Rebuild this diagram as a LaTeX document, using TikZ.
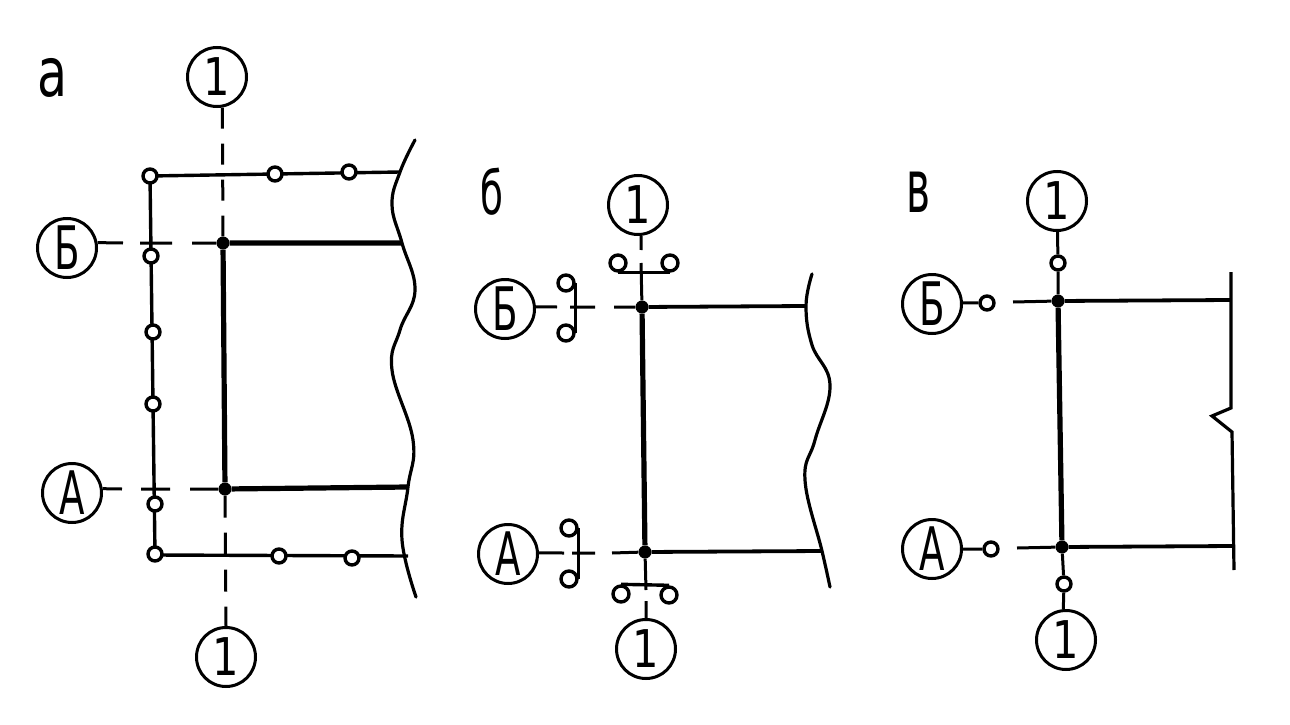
\documentclass[tikz,border=0pt]{standalone}
\usepackage{fontspec}
\usepackage{graphicx}
\setmainfont{DejaVu Sans}
\newcommand{\bigtxt}[3]{\scalebox{#1}[1]{\fontsize{#2}{#2}\selectfont #3}}
\tikzset{
  x=1pt,y=-1pt,
  bubble/.style={circle,draw=black,line width=3pt,fill=white,minimum size=59pt,inner sep=0pt},
  ring/.style={circle,draw=black,line width=3.4pt,fill=white,minimum size=14pt,inner sep=0pt},
  hookring/.style={ring,minimum size=16pt},
  joint/.style={circle,fill=black,minimum size=13pt,inner sep=0pt},
  main/.style={line width=5.2pt},
  thin line/.style={line width=3.4pt},
  axis/.style={line width=3pt},
  edge line/.style={line width=3.2pt,line cap=round},
  label/.style={inner sep=0pt,anchor=center},
}
\begin{document}
\begin{tikzpicture}
\useasboundingbox (0,0) rectangle (1290,725);
% ---------- panel a
\node[label] (la) at (53,78) {\bigtxt{.72}{68}{а}};
\coordinate (aB0) at (140,243); \coordinate (aB1) at (172,243);
\coordinate (aB2) at (192,243); \coordinate (aBe) at (123,243);
\coordinate (aA0) at (141,489); \coordinate (aA1) at (170,489);
\coordinate (aA2) at (190,489); \coordinate (aAe) at (122,489);
\node[joint] (aJB) at (223,243) {};
\node[joint] (aJA) at (225,489) {};
\coordinate (aEB) at (402,243); \coordinate (aEA) at (408,487);
\coordinate (aET) at (400,172); \coordinate (aEL) at (408,556);
\node[bubble] (a1t) at (217,77) {\bigtxt{.8}{52}{1}};
\node[bubble] (a1b) at (226,657) {\bigtxt{.8}{52}{1}};
\node[bubble] (aB) at (67,248) {\bigtxt{.62}{60}{Б}};
\node[bubble] (aA) at (72,493) {\bigtxt{.62}{60}{А}};
\draw[axis,dash pattern=on 21pt off 15pt] (a1t.-80) -- (aJB);
\draw[axis,dash pattern=on 22pt off 15pt] (aJA) -- (a1b.north);
\draw[axis] (aB.10) -- (aBe) (aB0) -- (aB1) (aB2) -- (aJB);
\draw[axis] (aA.8) -- (aAe) (aA0) -- (aA1) (aA2) -- (aJA);
\draw[main] (aJB) -- (aJA) (aJB) -- (aEB) (aJA) -- (aEA);
\coordinate (aC) at (150,176); \coordinate (aD) at (155,555);
\draw[thin line] (aC) -- (aET) (aC) -- (aD) -- (aEL);
\foreach \n/\p in {1/{150,176},2/{275,174},3/{349,172},4/{151,256},5/{153,332},6/{153,404},7/{155,504},8/{155,554},9/{279,556},10/{352,558}}
  \node[ring] (ar\n) at (\p) {};
\draw[edge line] plot[smooth,tension=.7] coordinates {(415,140) (400,172) (392,205) (402,243) (415,290) (400,330) (392,370) (413,440) (408,487) (402,540) (416,597)};
% ---------- panel b
\node[label] (lb) at (492,192) {\bigtxt{.62}{60}{б}};
\node[joint] (bJB) at (642,307) {};
\node[joint] (bJA) at (645,552) {};
\coordinate (bEB) at (806,306); \coordinate (bEA) at (822,551);
\node[bubble] (b1t) at (638,205) {\bigtxt{.8}{52}{1}};
\node[bubble] (b1b) at (646,649) {\bigtxt{.8}{52}{1}};
\node[bubble] (bB) at (505,309) {\bigtxt{.62}{60}{Б}};
\node[bubble] (bA) at (508,554) {\bigtxt{.62}{60}{А}};
\coordinate (bTg) at (641,250); \coordinate (bTh) at (641,263);
\coordinate (bBh) at (646,590); \coordinate (bBg) at (646,601);
\draw[axis] (b1t.-84) -- (bTg) (bTh) -- (bJB);
\draw[axis] (bJA) -- (bBh) (bBg) -- (b1b.north);
\coordinate (bBa) at (557,307); \coordinate (bBb) at (570,307); \coordinate (bBc) at (595,307); \coordinate (bBd) at (614,307);
\draw[axis] (bB.4) -- (bBa) (bBb) -- (bBc) (bBd) -- (bJB);
\coordinate (bAa) at (564,553); \coordinate (bAb) at (572,553); \coordinate (bAc) at (595,553); \coordinate (bAd) at (612,553);
\draw[axis] (bA.2) -- (bAa) (bAb) -- (bAc) (bAd) -- (bJA);
\draw[main] (bJB) -- (bJA);
\draw[line width=3.8pt] (bJB) -- (bEB) (bJA) -- (bEA);
\node[hookring] (bh1) at (618,263) {}; \node[hookring] (bh2) at (670,263) {};
\node[hookring] (bh3) at (566,283) {}; \node[hookring] (bh4) at (566,333) {};
\node[hookring] (bh5) at (569,528) {}; \node[hookring] (bh6) at (569,579) {};
\node[hookring] (bh7) at (621,594) {}; \node[hookring] (bh8) at (669,595) {};
\draw[thin line] (bh1.south) -- (bh2.south);
\draw[thin line] (bh3.east) -- (bh4.east);
\draw[thin line] (bh5.east) -- (bh6.east);
\draw[thin line] (bh7.north) -- (bh8.north);
\draw[edge line] plot[smooth,tension=.7] coordinates {(812,274) (806,306) (812,345) (830,385) (815,440) (805,480) (822,551) (830,587)};
% ---------- panel c
\node[label] (lc) at (918,192) {\bigtxt{.55}{74}{в}};
\node[joint] (cJB) at (1058,301) {};
\node[joint] (cJA) at (1062,547) {};
\coordinate (cEB) at (1231,300); \coordinate (cEA) at (1233,546);
\node[bubble] (c1t) at (1057,201) {\bigtxt{.8}{52}{1}};
\node[bubble] (c1b) at (1066,640) {\bigtxt{.8}{52}{1}};
\node[bubble] (cB) at (932,304) {\bigtxt{.62}{60}{Б}};
\node[bubble] (cA) at (932,549) {\bigtxt{.62}{60}{А}};
\node[ring] (cr1) at (1058,263) {};
\node[ring] (cr2) at (987,303) {};
\node[ring] (cr3) at (991,549) {};
\node[ring] (cr4) at (1064,584) {};
\coordinate (cBg) at (1013,302); \coordinate (cAg) at (1017,548);
\draw[axis] (c1t) -- (cr1) -- (cJB);
\draw[axis] (cB.2) -- (cr2) (cBg) -- (cJB);
\draw[axis] (cA) -- (cr3) (cAg) -- (cJA);
\draw[axis] (cJA) -- (cr4) -- (c1b.95);
\draw[main] (cJB) -- (cJA);
\draw[line width=3.8pt] (cJB) -- (cEB) (cJA) -- (cEA);
\draw[edge line,line cap=butt] (1231,272) -- (1231,408) -- (1212,416) -- (1232,432) -- (1234,570);
\end{tikzpicture}
\end{document}
